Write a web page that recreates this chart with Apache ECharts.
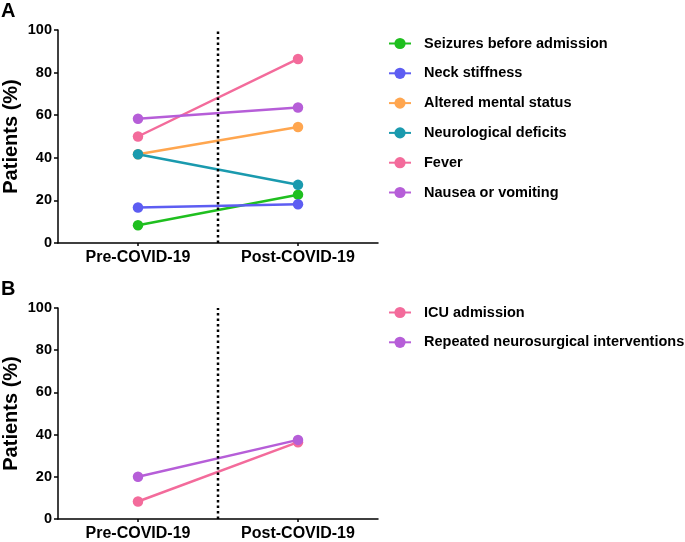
<!DOCTYPE html>
<html>
<head>
<meta charset="utf-8">
<script src="https://cdn.jsdelivr.net/npm/echarts@6/dist/echarts.min.js"></script>
<style>html,body{margin:0;padding:0;background:#fff;}#c{width:685px;height:542px;}</style>
</head>
<body>
<div id="c"></div>
<script>
var categories = ['Pre-COVID-19', 'Post-COVID-19'];
var yTicks = [0, 20, 40, 60, 80, 100];

var namesA = ['Seizures before admission', 'Neck stiffness', 'Altered mental status', 'Neurological deficits', 'Fever', 'Nausea or vomiting'];
var seizures = [8.3, 22.7];
var neckStiffness = [16.7, 18.2];
var alteredMental = [41.7, 54.5];
var neuroDeficits = [41.7, 27.3];
var fever = [50.0, 86.4];
var nausea = [58.3, 63.6];
var valuesA = [seizures, neckStiffness, alteredMental, neuroDeficits, fever, nausea];
var colorsA = ['#1fbf1f', '#5d5df2', '#ffa64f', '#1a9aae', '#f36b9b', '#b65ed8'];

var namesB = ['ICU admission', 'Repeated neurosurgical interventions'];
var icu = [8.3, 36.4];
var repeated = [20.0, 37.5];
var valuesB = [icu, repeated];
var colorsB = ['#f36b9b', '#b65ed8'];

var divider = [[0.5, 0], [0.5, 100]];

var FONT = '"Liberation Sans", Arial, sans-serif';
var chart = echarts.init(document.getElementById('c'));

function yAxis(gi) {
  return {
    type: 'value', gridIndex: gi, min: yTicks[0], max: yTicks[yTicks.length - 1], interval: yTicks[1] - yTicks[0],
    name: 'Patients (%)', nameLocation: 'middle', nameGap: 37,
    nameTextStyle: {fontFamily: FONT, fontWeight: 'bold', fontSize: 20, color: '#000'},
    axisLine: {show: true, lineStyle: {color: '#000', width: 1.5}},
    axisTick: {show: true, length: 4, lineStyle: {color: '#000', width: 1.5}},
    axisLabel: {fontFamily: FONT, fontWeight: 'bold', fontSize: 14.5, color: '#000', margin: 6},
    splitLine: {show: false}
  };
}
function xCat(gi) {
  return {
    type: 'category', gridIndex: gi, data: categories, boundaryGap: true,
    axisLine: {show: true, lineStyle: {color: '#000', width: 1.5}},
    axisTick: {show: true, alignWithLabel: true, length: 3, lineStyle: {color: '#000', width: 1.5}},
    axisLabel: {fontFamily: FONT, fontWeight: 'bold', fontSize: 16, color: '#000', margin: 7}
  };
}
function xHidden(gi) {
  return {type: 'value', gridIndex: gi, min: 0, max: 1, show: false};
}

var series = [];
function addSeries(names, values, colors, xi, yi) {
  names.forEach(function (n, i) {
    series.push({
      name: n, type: 'line', xAxisIndex: xi, yAxisIndex: yi,
      data: values[i], color: colors[i],
      symbol: 'circle', symbolSize: 10.5,
      lineStyle: {width: 2.5, color: colors[i]},
      itemStyle: {color: colors[i]},
      animation: false
    });
  });
}
addSeries(namesA, valuesA, colorsA, 0, 0);
addSeries(namesB, valuesB, colorsB, 2, 1);
[1, 3].forEach(function (xi, k) {
  series.push({
    type: 'line', xAxisIndex: xi, yAxisIndex: k, data: divider,
    symbol: 'none', silent: true, animation: false,
    lineStyle: {color: '#000', width: 2.5, type: [2.5, 3]}
  });
});

function legend(names, top) {
  return {
    data: names, orient: 'vertical', left: 388, top: top, padding: 0,
    itemWidth: 22, itemHeight: 14, itemGap: 14.8,
    textStyle: {fontFamily: FONT, fontWeight: 'bold', fontSize: 14.5, color: '#000', padding: [0, 0, 0, 8], lineHeight: 14}
  };
}

chart.setOption({
  animation: false,
  grid: [
    {left: 58, top: 30, width: 320, height: 213},
    {left: 58, top: 308, width: 320, height: 213}
  ],
  xAxis: [xCat(0), xHidden(0), xCat(1), xHidden(1)],
  yAxis: [yAxis(0), yAxis(1)],
  legend: [legend(namesA, 36), legend(namesB, 305)],
  graphic: [
    {type: 'text', left: 1, top: 1, style: {text: 'A', font: 'bold 20px ' + FONT, fill: '#000'}},
    {type: 'text', left: 1, top: 279, style: {text: 'B', font: 'bold 20px ' + FONT, fill: '#000'}}
  ],
  series: series
});
</script>
</body>
</html>
